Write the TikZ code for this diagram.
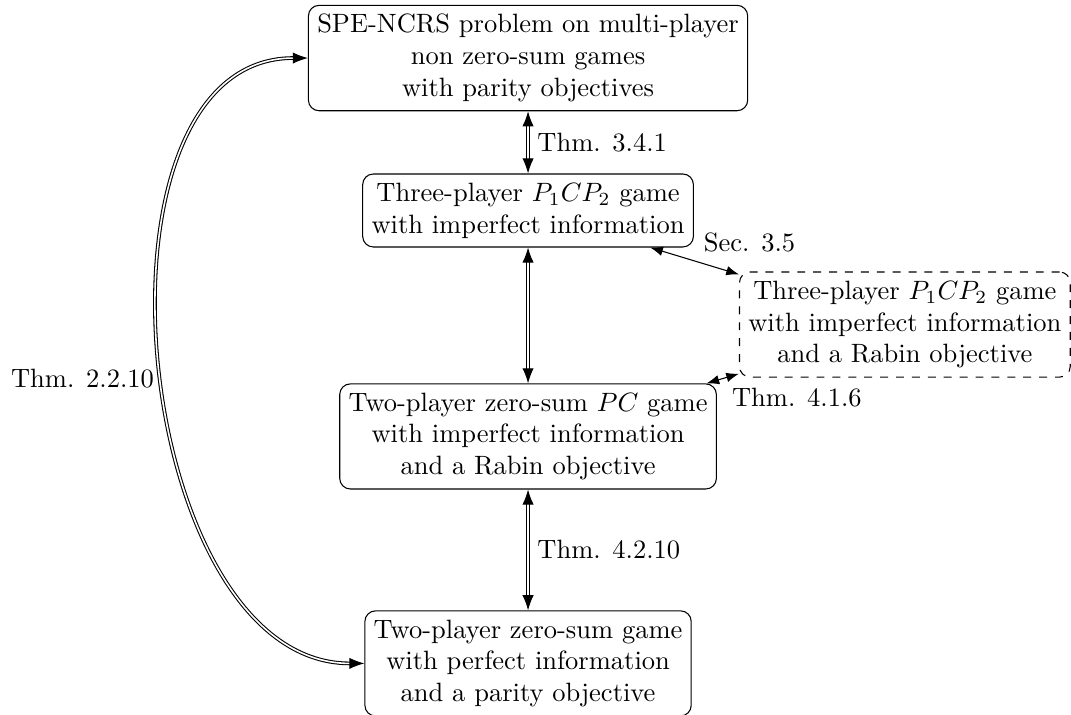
\documentclass[tikz,border=0pt]{standalone}
\usetikzlibrary{arrows.meta}
\begin{document}
\begin{tikzpicture}[x=0.75pt,y=0.75pt,yscale=-1,xscale=1,
  gamebox/.style={draw,rounded corners,align=center},
  dashbox/.style={gamebox,dashed},
  equiv/.style={double,{Latex}-{Latex}},
  link/.style={{Latex}-{Latex}}]
\useasboundingbox (0,0) rectangle (538.9,359.7);

% Text Node
\node[gamebox] (spe) at (265.7,29.2) {SPE-NCRS problem on multi-player\\non zero-sum games\\with parity objectives};
% Text Node
\node[gamebox] (three) at (265.7,105.9) {Three-player $P_1CP_2$ game\\with imperfect information};
% Text Node
\node[dashbox] (rabin3) at (455.3,163.3) {Three-player $P_1CP_2$ game\\with imperfect information\\and a Rabin objective};
% Text Node
\node[gamebox] (two) at (265.7,219.6) {Two-player zero-sum $PC$ game\\with imperfect information\\and a Rabin objective};
% Text Node
\node[gamebox] (parity) at (265.7,333.8) {Two-player zero-sum game\\with perfect information\\and a parity objective};

%Straight Lines
\draw[equiv] (spe) -- node[right] {Thm. 3.4.1} (three);
\draw[equiv] (three) -- (two);
\draw[equiv] (two) -- node[right] {Thm. 4.2.10} (parity);
\draw[link] (three) -- node[above right] {Sec. 3.5} (rabin3);
\draw[link] (two) -- node[below right] {Thm. 4.1.6} (rabin3);
%Curve
\draw[equiv] (parity.west) to[out=180,in=180,looseness=0.98] node[pos=0.48,left] {Thm. 2.2.10} (spe.west);

\end{tikzpicture}
\end{document}
